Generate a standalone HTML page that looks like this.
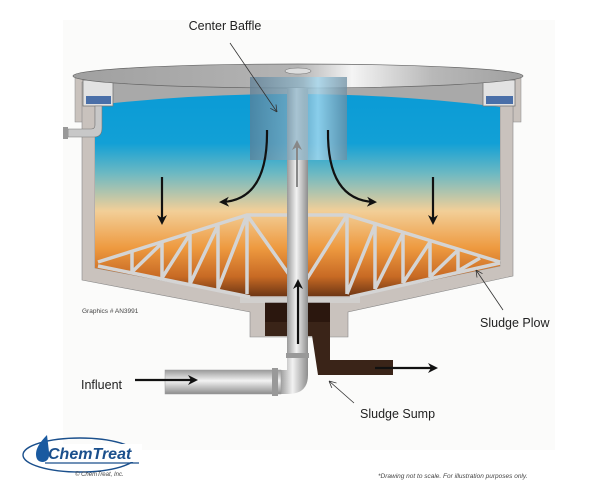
<!DOCTYPE html>
<html><head><meta charset="utf-8"><style>
html,body{margin:0;padding:0;background:#fff;width:600px;height:500px;overflow:hidden}
svg{display:block}
text{font-family:"Liberation Sans",sans-serif}
</style></head><body>
<svg width="600" height="500" viewBox="0 0 600 500" xmlns="http://www.w3.org/2000/svg">
<defs>
<linearGradient id="liq" x1="0" y1="0" x2="0" y2="1">
<stop offset="0" stop-color="#0a9bd6"/><stop offset="0.25" stop-color="#12a0d6"/>
<stop offset="0.4" stop-color="#6fb9c2"/><stop offset="0.58" stop-color="#f2cf98"/>
<stop offset="0.76" stop-color="#ee9a40"/><stop offset="0.9" stop-color="#c86a24"/><stop offset="1" stop-color="#6a3414"/>
</linearGradient>
<linearGradient id="lid" x1="0" y1="0" x2="1" y2="0">
<stop offset="0" stop-color="#a0a0a0"/><stop offset="0.5" stop-color="#b4b4b4"/>
<stop offset="0.62" stop-color="#f4f4f4"/><stop offset="0.8" stop-color="#b8b8b8"/><stop offset="1" stop-color="#a0a0a0"/>
</linearGradient>
<linearGradient id="pipe" x1="0" y1="0" x2="1" y2="0">
<stop offset="0" stop-color="#9a9a9a"/><stop offset="0.45" stop-color="#f2f2f2"/><stop offset="1" stop-color="#8d8d8d"/>
</linearGradient>
<linearGradient id="pipeh" x1="0" y1="0" x2="0" y2="1">
<stop offset="0" stop-color="#9a9a9a"/><stop offset="0.45" stop-color="#f2f2f2"/><stop offset="1" stop-color="#8d8d8d"/>
</linearGradient>
<linearGradient id="baf" x1="0" y1="0" x2="1" y2="0">
<stop offset="0" stop-color="#5d7f96" stop-opacity="0.75"/><stop offset="0.55" stop-color="#8fb8cc" stop-opacity="0.7"/>
<stop offset="0.7" stop-color="#a8daf0" stop-opacity="0.8"/><stop offset="1" stop-color="#6d8ea2" stop-opacity="0.75"/>
</linearGradient>
<marker id="ah" markerWidth="10" markerHeight="10" refX="7" refY="5" orient="auto" markerUnits="userSpaceOnUse"><path d="M0,0 L10,5 L0,10 L3,5z" fill="#111"/></marker>
<marker id="ahg" markerWidth="10" markerHeight="10" refX="7" refY="5" orient="auto" markerUnits="userSpaceOnUse"><path d="M0,0 L10,5 L0,10 L3,5z" fill="#888"/></marker>
<marker id="as" markerWidth="7" markerHeight="7" refX="7" refY="3.5" orient="auto" markerUnits="userSpaceOnUse"><path d="M0,0 L7,3.5 L0,7" fill="none" stroke="#333" stroke-width="0.8"/></marker>
</defs>
<rect x="63" y="20" width="492" height="430" fill="#fbfbfa"/>
<!-- skirts -->
<rect x="75" y="78" width="8" height="44" fill="#c9c2bd" stroke="#888" stroke-width="0.5"/>
<rect x="513" y="78" width="8" height="44" fill="#c9c2bd" stroke="#888" stroke-width="0.5"/>
<!-- outer walls -->
<path d="M82,82 L95,82 L95,268 L250,297 L350,297 L500,266 L500,82 L513,82 L513,276 L348,312 L348,337 L250,337 L250,312 L82,280 Z" fill="#c9c2bd" stroke="#888" stroke-width="0.6"/>
<!-- liquid -->
<path d="M95,92 L500,92 L500,266 L350,297 L250,297 L95,268 Z" fill="url(#liq)"/>
<!-- underside lid -->
<path d="M95,82 L500,82 L500,107 Q300,82 95,105 Z" fill="#a9a9a9"/>
<!-- sump -->
<rect x="265" y="302" width="65" height="20" fill="#2b170e"/>
<rect x="265" y="322" width="65" height="14" fill="#3a2418"/>
<path d="M310,322 L330,322 L330,360 L393,360 L393,375 L318,375 Z" fill="#3a2418"/>
<!-- plow truss -->
<g stroke="#d4d4d4" stroke-width="3.5" fill="none">
<path d="M98,266 L250,297 M500,263 L350,297"/>
<path d="M98,262 L247,215 L347,215 L500,262"/>
<path d="M132,252 L132,272 M132,272 L162,243 M162,243 L162,278 M162,278 L190,234 M190,234 L190,284 M190,284 L218,225 M218,225 L218,289 M218,289 L247,215 M247,215 L247,294"/>
<path d="M247,215 L300,290 M347,215 L300,290"/>
<path d="M347,215 L347,294 M347,294 L375,225 M375,225 L375,289 M375,289 L403,233 M403,233 L403,283 M403,283 L430,242 M430,242 L430,277 M430,277 L458,250 M458,250 L458,271 M458,271 L480,258"/>
</g>
<rect x="240" y="296" width="120" height="7" fill="#d4d4d4" opacity="0.7"/>
<!-- launders -->
<rect x="83" y="80" width="30" height="26" fill="#e2e2e2" stroke="#777" stroke-width="0.8"/>
<rect x="86" y="96" width="25" height="8" fill="#4a6fa8"/>
<rect x="483" y="80" width="32" height="26" fill="#e2e2e2" stroke="#777" stroke-width="0.8"/>
<rect x="486" y="96" width="27" height="8" fill="#4a6fa8"/>
<!-- overflow pipe -->
<path d="M95,106 L102,106 L102,128 Q102,137 94,137 L68,137 L68,129 L91,129 Q95,129 95,125 Z" fill="#c8c8c8" stroke="#777" stroke-width="0.6"/>
<rect x="63" y="127" width="5" height="12" fill="#999"/>
<!-- lid -->
<ellipse cx="298" cy="76" rx="225" ry="12" fill="url(#lid)" stroke="#666" stroke-width="0.7"/>
<ellipse cx="298" cy="71" rx="13" ry="3" fill="#ddd" stroke="#777" stroke-width="0.6"/>
<!-- center pipe -->
<rect x="287" y="88" width="21" height="270" fill="url(#pipe)"/>
<!-- elbow + influent -->
<path d="M287,355 L308,355 L308,375 Q308,394 288,394 L280,394 L280,370 L287,370 Z" fill="url(#pipe)"/>
<rect x="165" y="370" width="116" height="24" fill="url(#pipeh)" stroke="#999" stroke-width="0.5"/>
<rect x="272" y="368" width="6" height="28" fill="#999"/>
<rect x="286" y="353" width="23" height="5" fill="#999"/>
<!-- baffle -->
<rect x="250" y="77" width="97" height="83" fill="url(#baf)"/>
<!-- arrows -->
<g stroke="#111" stroke-width="2.2" fill="none" marker-end="url(#ah)">
<path d="M267,130 Q268,200 222,202"/>
<path d="M328,130 Q327,200 374,202"/>
<path d="M162,177 L162,222"/>
<path d="M433,177 L433,222"/>
<path d="M298,344 L298,282"/>
<path d="M135,380 L195,380"/>
<path d="M375,368 L435,368"/>
</g>
<path d="M297,187 L297,143" stroke="#888" stroke-width="2" fill="none" marker-end="url(#ahg)"/>
<!-- leader lines -->
<g stroke="#333" stroke-width="0.8" fill="none" marker-end="url(#as)">
<path d="M230,43 L277,112"/>
<path d="M503,310 L476,270"/>
<path d="M354,403 L329,381"/>
</g>
<!-- labels -->
<text x="225" y="30" font-size="12.5" text-anchor="middle" fill="#222">Center Baffle</text>
<text x="82" y="313" font-size="6.5" fill="#444">Graphics # AN3991</text>
<text x="480" y="327" font-size="12.5" fill="#222">Sludge Plow</text>
<text x="81" y="389" font-size="12.5" fill="#222">Influent</text>
<text x="360" y="418" font-size="12.5" fill="#222">Sludge Sump</text>
<!-- logo -->
<ellipse cx="80" cy="455" rx="57" ry="17" fill="none" stroke="#1a4f8c" stroke-width="1.4"/>
<rect x="44" y="444" width="98" height="18" fill="#fff"/>
<path d="M47,435 Q36,446 36,454 Q36,462 43,462 Q50,461 49,452 Z" fill="#1a5aa0"/>
<text x="48" y="459" font-size="16" font-weight="bold" font-style="italic" fill="#1a4f8c">ChemTreat</text>
<line x1="45" y1="463" x2="139" y2="463" stroke="#1a4f8c" stroke-width="1.2"/>
<text x="75" y="476" font-size="6" font-style="italic" fill="#444">© ChemTreat, Inc.</text>
<text x="378" y="478" font-size="6.5" font-style="italic" fill="#444">*Drawing not to scale. For illustration purposes only.</text>
</svg>
</body></html>
